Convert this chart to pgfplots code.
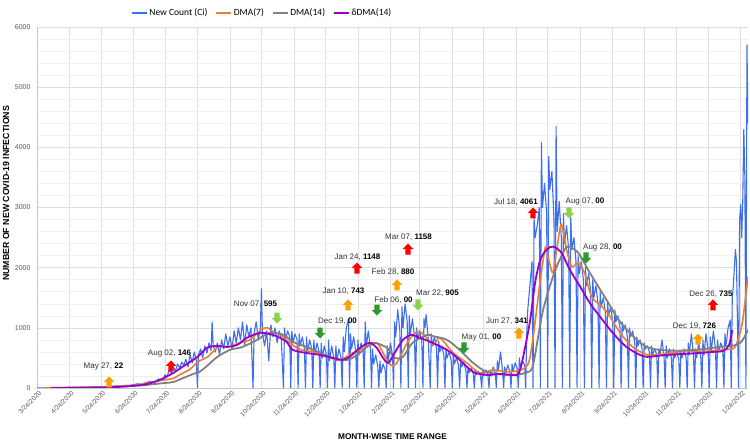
\documentclass[border=0pt]{standalone}
\usepackage{pgfplots}
\pgfplotsset{compat=1.18}
\usepackage{fontspec}
\setmainfont{Liberation Sans}
\newfontfamily\legendfont{Carlito}
\definecolor{cBlue}{HTML}{3D6EF0}
\definecolor{cOrange}{HTML}{ED7D31}
\definecolor{cGray}{HTML}{808080}
\definecolor{cPurple}{HTML}{9900CC}
\definecolor{aRed}{HTML}{FF0000}
\definecolor{aOrange}{HTML}{FF9F00}
\definecolor{aLGreen}{HTML}{8FD04A}
\definecolor{aDGreen}{HTML}{2E9A2E}
\definecolor{tickgray}{HTML}{595959}
\definecolor{txtgray}{HTML}{333333}
\newcommand{\UpArr}[3]{\fill[#3] (axis cs:#1,#2) ++(-2.6pt,-5.5pt) -- ++(5.2pt,0) -- ++(0,5.5pt) -- ++(2.8pt,0) -- ++(-5.4pt,5.5pt) -- ++(-5.4pt,-5.5pt) -- ++(2.8pt,0) -- cycle;}
\newcommand{\DnArr}[3]{\fill[#3] (axis cs:#1,#2) ++(-2.6pt,5.5pt) -- ++(5.2pt,0) -- ++(0,-5.5pt) -- ++(2.8pt,0) -- ++(-5.4pt,-5.5pt) -- ++(-5.4pt,5.5pt) -- ++(2.8pt,0) -- cycle;}
\newcommand{\Ann}[3]{\node[font=\fontsize{8}{9}\selectfont, text=txtgray, inner sep=0pt] at (axis cs:#1,#2) {#3};}
\begin{document}
\begin{tikzpicture}
\path[use as bounding box] (-37pt,-53pt) rectangle (713pt,388pt);
\begin{axis}[
  at={(0,0)}, anchor=south west,
  scale only axis, width=711pt, height=361pt,
  xmin=0, xmax=678, ymin=0, ymax=6000,
  axis x line*=bottom, axis y line*=left,
  axis line style={draw=gray!45, -},
  major tick length=0pt, minor tick length=0pt,
  xtick={0,31,61,92,122,153,184,214,245,275,306,337,365,396,426,457,487,518,549,579,610,640,671},
  xticklabels={3/24/2020,4/24/2020,5/24/2020,6/24/2020,7/24/2020,8/24/2020,9/24/2020,10/24/2020,11/24/2020,12/24/2020,1/24/2021,2/24/2021,3/24/2021,4/24/2021,5/24/2021,6/24/2021,7/24/2021,8/24/2021,9/24/2021,10/24/2021,11/24/2021,12/24/2021,1/24/2022},
  ytick={0,1000,2000,3000,4000,5000,6000},
  minor y tick num=4,
  grid=both,
  major grid style={draw=gray!25, line width=0.6pt},
  minor grid style={draw=gray!12, line width=0.5pt},
  /pgf/number format/assume math mode=true,
  /pgf/number format/1000 sep={},
  tick label style={font=\fontsize{7}{8}\selectfont, text=tickgray},
  xticklabel style={font=\fontsize{6.6}{7}\selectfont, rotate=45, anchor=north east, inner sep=0.5pt, yshift=-2pt},
  yticklabel style={xshift=-3pt},
  xlabel={MONTH-WISE TIME RANGE},
  ylabel={NUMBER OF NEW COVID-19 INFECTIONS},
  xlabel style={font=\bfseries\fontsize{8.3}{9}\selectfont, at={(axis description cs:0.5,-0.1357)}, anchor=center},
  ylabel style={font=\bfseries\fontsize{8.8}{9}\selectfont, at={(axis description cs:-0.0436,0.539)}, anchor=center},
  legend columns=4,
  legend style={at={(axis description cs:0.316,1.0388)}, anchor=center, draw=none, fill=none,
    font=\legendfont\fontsize{9.5}{10}\selectfont, inner sep=0pt,
    nodes={inner xsep=1.5pt},
    /tikz/every even column/.append style={column sep=6pt}},
  legend image code/.code={\draw[#1, line width=2.4pt] (0,0) -- (15pt,0);},
]
\addplot[cBlue, line width=1.1pt, line join=round] table[x=x,y=y] {
x y
0 0
4 2
8 0
12 5
16 3
20 8
24 4
28 10
32 6
36 12
40 8
44 15
48 10
52 18
56 14
60 20
64 22
68 28
72 25
76 35
80 30
84 45
88 40
92 55
96 70
100 60
104 90
108 110
112 100
116 150
120 130
122 220
124 180
126 300
128 250
130 350
132 280
134 400
136 330
138 430
140 380
142 480
144 350
146 550
148 420
150 600
152 450
153 0
154 550
156 650
158 500
160 700
162 580
164 750
166 620
167 1100
168 700
170 600
172 750
174 550
176 800
178 650
180 900
182 700
184 850
186 650
188 950
190 750
192 1000
194 800
196 1100
198 700
200 1050
202 850
204 1000
206 0
207 900
209 1100
211 800
213 1000
214 1650
215 900
217 700
219 950
221 450
223 1050
225 850
227 1000
229 750
231 950
233 800
235 0
236 1000
237 800
239 950
241 850
242 0
243 950
244 750
246 900
248 800
249 0
250 900
251 700
253 850
255 650
256 0
257 850
258 600
260 800
262 650
263 0
264 800
265 550
267 750
269 600
270 0
271 750
272 500
274 700
276 550
277 0
278 800
279 450
281 700
283 500
284 0
285 700
286 450
288 650
290 500
291 0
292 850
293 600
295 1000
297 1150
298 0
299 900
300 650
302 850
304 600
305 0
306 800
307 550
309 750
311 600
312 0
313 1100
314 700
316 950
318 650
319 0
320 650
321 400
323 550
325 350
326 0
327 450
328 250
330 400
332 300
333 0
334 700
335 450
337 750
339 550
340 0
341 1100
342 850
344 1300
346 950
347 0
348 1350
349 1000
351 1400
353 1100
354 0
355 1200
356 900
358 1150
360 850
361 0
362 1000
363 800
365 950
367 750
368 0
369 1150
370 1000
371 1220
373 850
375 0
376 900
377 700
379 850
381 650
382 0
383 780
384 600
386 700
388 550
389 0
390 650
391 500
393 600
395 450
396 0
397 550
398 400
400 500
402 380
403 0
404 450
405 350
407 420
409 300
410 0
411 350
412 250
414 330
416 240
417 0
418 300
419 220
421 280
423 200
424 0
425 280
426 200
428 300
430 220
431 0
432 300
433 200
435 350
437 250
438 0
439 450
440 300
442 600
444 280
445 0
446 350
447 250
449 380
451 260
452 0
453 400
454 280
456 420
458 320
459 0
460 500
461 350
463 450
465 380
466 0
467 900
468 1300
470 1700
472 2100
473 0
474 2830
475 2500
477 2700
479 3000
480 0
481 4080
482 3000
484 3400
486 2900
487 0
488 3850
489 3300
491 3600
493 2800
494 0
495 4350
496 2600
498 3100
500 2500
501 0
502 2900
503 2400
505 2700
507 2300
508 0
509 2830
510 2300
512 2500
514 2100
515 0
516 2200
517 1900
519 2100
521 1800
522 0
523 2000
524 1700
526 1900
528 1600
529 0
530 1800
531 1500
533 1700
535 1400
536 0
537 1600
538 1350
540 1500
542 1250
543 0
544 1450
545 1200
547 1350
549 1100
550 0
551 1300
552 1100
554 1200
556 1000
557 0
558 1100
559 950
561 1050
563 850
564 0
565 1000
566 850
568 950
570 750
571 0
572 850
573 700
575 800
577 650
578 0
579 750
580 650
582 700
584 600
585 0
586 700
587 550
589 650
591 550
592 0
593 650
594 550
596 800
598 500
599 0
600 700
601 500
603 650
605 500
606 0
607 650
608 500
610 600
612 480
613 0
614 600
615 500
617 650
619 500
620 0
621 750
622 550
624 900
626 550
627 0
628 650
629 500
631 750
633 500
634 0
635 800
636 550
638 900
640 600
641 0
642 850
643 600
645 950
647 650
648 0
649 800
650 600
652 750
654 650
655 0
656 900
657 700
659 1000
661 1130
662 0
663 1500
664 1700
666 2300
667 2100
669 0
670 2800
671 3050
672 2500
673 3100
674 4300
675 3500
676 0
677 5700
678 4400
};
\addlegendentry{New Count (Ci)}
\addplot[cOrange, line width=1.6pt, smooth, tension=0.5] table[x=x,y=y] {
x y
6 3
20 6
40 10
60 16
70 25
80 33
92 45
100 65
110 100
120 130
130 160
136 220
145 300
150 380
155 450
163 520
173 680
183 690
193 750
203 800
208 880
215 980
220 1000
226 920
231 900
241 750
251 640
263 600
276 520
289 467
301 583
315 683
324 750
330 583
337 383
343 417
353 750
362 933
368 900
378 717
384 833
397 583
410 417
422 250
435 300
451 267
465 330
470 500
475 1100
480 1800
485 2350
488 2133
492 1917
496 2350
500 2717
505 2300
510 2017
516 2083
522 1917
529 1517
539 1350
544 1250
556 920
568 683
582 550
594 560
606 580
620 620
632 600
645 620
655 640
665 667
670 900
673 1133
678 1850
};
\addlegendentry{DMA(7)}
\addplot[cGray, line width=1.8pt, smooth, tension=0.5] table[x=x,y=y] {
x y
13 2
40 6
60 12
80 25
100 45
120 80
130 100
140 170
150 240
155 267
163 380
172 517
184 633
196 683
210 800
222 917
235 883
244 767
257 683
270 583
282 500
296 467
308 583
320 750
334 667
341 500
349 517
358 750
372 883
378 860
391 800
403 633
416 417
429 267
448 217
460 230
467 260
473 380
482 1250
492 1850
500 2190
506 2350
516 2250
527 1920
543 1467
556 1100
572 800
582 680
594 633
610 620
632 640
651 683
667 717
673 800
678 967
};
\addlegendentry{DMA(14)}
\addplot[cPurple, line width=1.8pt, smooth, tension=0.5] table[x=x,y=y] {
x y
14 0
40 3
60 8
80 20
100 50
110 90
117 133
130 250
139 355
153 517
162 667
172 700
181 683
191 717
200 833
213 917
225 883
231 840
238 767
244 633
257 583
270 550
282 500
291 467
298 517
308 667
317 750
324 667
330 500
335 417
341 583
349 800
357 883
365 833
375 767
391 633
403 467
416 267
429 217
441 233
454 217
459 230
463 467
470 1100
475 1750
480 2133
486 2300
492 2350
500 2250
508 1967
518 1683
527 1417
537 1183
549 917
562 683
575 550
582 517
595 540
610 560
630 580
645 600
655 620
660 720
663 967
};
\addlegendentry{δDMA(14)}
% annotations
\Ann{63.4}{349}{May 27, \textbf{\color{black}22}}
\UpArr{68.7}{100}{aOrange}
\Ann{126.4}{565}{Aug 02, \textbf{\color{black}146}}
\UpArr{127.8}{366}{aRed}
\Ann{208.4}{1396}{Nov 07, \textbf{\color{black}595}}
\DnArr{228.9}{1163}{aLGreen}
\Ann{286.6}{1114}{Dec 19, \textbf{\color{black}00}}
\DnArr{269.9}{914}{aDGreen}
\Ann{292.3}{1612}{Jan 10, \textbf{\color{black}743}}
\UpArr{296.6}{1380}{aOrange}
\Ann{305.6}{2177}{Jan 24, \textbf{\color{black}1148}}
\UpArr{305.1}{1994}{aRed}
\Ann{339.5}{1928}{Feb 28, \textbf{\color{black}880}}
\UpArr{343.3}{1712}{aOrange}
\Ann{354.3}{2510}{Mar 07, \textbf{\color{black}1158}}
\UpArr{353.8}{2310}{aRed}
\Ann{340}{1463}{Feb 06, \textbf{\color{black}00}}
\DnArr{324.2}{1296}{aDGreen}
\Ann{381.9}{1579}{Mar 22, \textbf{\color{black}905}}
\DnArr{363.3}{1380}{aLGreen}
\Ann{423.9}{831}{May 01, \textbf{\color{black}00}}
\DnArr{407.2}{665}{aDGreen}
\Ann{448.2}{1114}{Jun 27, \textbf{\color{black}341}}
\UpArr{459.6}{914}{aOrange}
\Ann{456.8}{3091}{Jul 18, \textbf{\color{black}4061}}
\UpArr{473}{2909}{aRed}
\Ann{522.6}{3091}{Aug 07, \textbf{\color{black}00}}
\DnArr{507.3}{2909}{aLGreen}
\Ann{539.3}{2327}{Aug 28, \textbf{\color{black}00}}
\DnArr{523.5}{2161}{aDGreen}
\Ann{627}{1030}{Dec 19, \textbf{\color{black}726}}
\UpArr{630.3}{814}{aOrange}
\Ann{642.7}{1562}{Dec 26, \textbf{\color{black}735}}
\UpArr{644.6}{1380}{aRed}
\end{axis}
\end{tikzpicture}
\end{document}
